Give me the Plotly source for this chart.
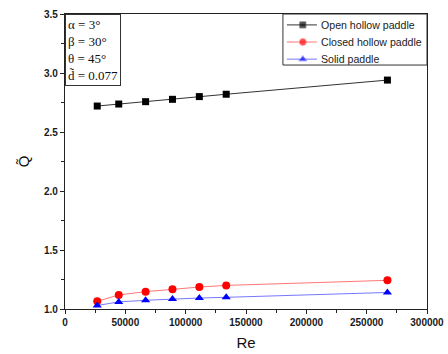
import plotly.graph_objects as go

re_vals = [26720, 44530, 66800, 89060, 111330, 133600, 267200]
open_hollow = [2.72, 2.737, 2.757, 2.777, 2.80, 2.82, 2.94]
closed_hollow = [1.065, 1.119, 1.147, 1.167, 1.186, 1.20, 1.243]
solid = [1.03, 1.06, 1.074, 1.085, 1.093, 1.099, 1.14]

series_names = ["Open hollow paddle", "Closed hollow paddle", "Solid paddle"]
x_ticks = [0, 50000, 100000, 150000, 200000, 250000, 300000]
y_ticks = [1.0, 1.5, 2.0, 2.5, 3.0, 3.5]
param_lines = ["α = 3°", "β = 30°", "θ = 45°", "d̃ = 0.077"]

styles = [
    dict(line="#333333", marker="black", symbol="square", size=7),
    dict(line="#ff7777", marker="red", symbol="circle", size=8),
    dict(line="#7777ff", marker="blue", symbol="triangle-up", size=8),
]
series_values = [open_hollow, closed_hollow, solid]

fig = go.Figure()
for name, vals, st in zip(series_names, series_values, styles):
    fig.add_trace(go.Scatter(x=re_vals, y=vals, name=name, mode="lines+markers", showlegend=False,
                             line=dict(color=st["line"], width=1),
                             marker=dict(symbol=st["symbol"], size=st["size"], color=st["marker"])))

# Custom legend (Origin-style compact box), drawn on an overlay axis in [0,1] units
leg_x0, leg_x1, leg_y0, leg_y1 = 0.602, 1.0, 0.827, 1.0
row_y = [0.963, 0.905, 0.847]
line_x = [0.613, 0.657, 0.696]
text_x = 0.703
fig.add_shape(type="rect", xref="paper", yref="paper", x0=leg_x0, x1=leg_x1, y0=leg_y0, y1=leg_y1,
              line=dict(color="#333", width=1), fillcolor="white", layer="below")
for name, st, ry in zip(series_names, styles, row_y):
    fig.add_trace(go.Scatter(x=line_x, y=[ry] * 3, mode="lines+markers", showlegend=False, hoverinfo="skip",
                             xaxis="x2", yaxis="y2",
                             line=dict(color=st["line"], width=1),
                             marker=dict(symbol=st["symbol"], size=[0, st["size"] - 1, 0], color=st["marker"])))
    fig.add_annotation(x=text_x, y=ry, xref="paper", yref="paper", xanchor="left", yanchor="middle",
                       text=name, showarrow=False,
                       font=dict(family="Liberation Sans, Arial", size=10.6, color="#222"))

axis_common = dict(showgrid=False, zeroline=False, showline=True, linecolor="#222", linewidth=1.2,
                   mirror=True, ticks="outside", ticklen=4, tickcolor="#222", automargin=False,
                   tickfont=dict(family="Liberation Sans, Arial", size=10, color="#1a1a1a", weight="bold"))

fig.update_layout(xaxis=dict(range=[0, 300000], tickvals=x_ticks, ticktext=[str(v) for v in x_ticks],
                             minor=dict(ticks="outside", ticklen=3, dtick=25000, tickcolor="#222"),
                             title=dict(text="Re", font=dict(family="Liberation Sans, Arial", size=15, color="#111"), standoff=10),
                             **axis_common),
                  yaxis=dict(range=[1.0, 3.5], tickvals=y_ticks, ticktext=[f"{v:.1f}" for v in y_ticks],
                             minor=dict(ticks="outside", ticklen=3, dtick=0.25, tickcolor="#222"),
                             title=dict(text="Q̃", font=dict(family="Liberation Sans, Arial", size=15, color="#111"), standoff=10),
                             **axis_common),
                  xaxis2=dict(overlaying="x", range=[0, 1], visible=False),
                  yaxis2=dict(overlaying="y", range=[0, 1], visible=False))

fig.add_annotation(x=0, y=1, xref="paper", yref="paper", xanchor="left", yanchor="top",
                   text="<br>".join(param_lines), showarrow=False, align="left",
                   font=dict(family="Liberation Serif, Times New Roman", size=13, color="#111"),
                   bordercolor="#333", borderwidth=1, borderpad=2, bgcolor="white")

fig.update_layout(
    width=448, height=354,
    margin=dict(l=65, r=21, t=14, b=45),
    paper_bgcolor="white", plot_bgcolor="white",
    showlegend=False,
)

fig.write_html("out.html")
